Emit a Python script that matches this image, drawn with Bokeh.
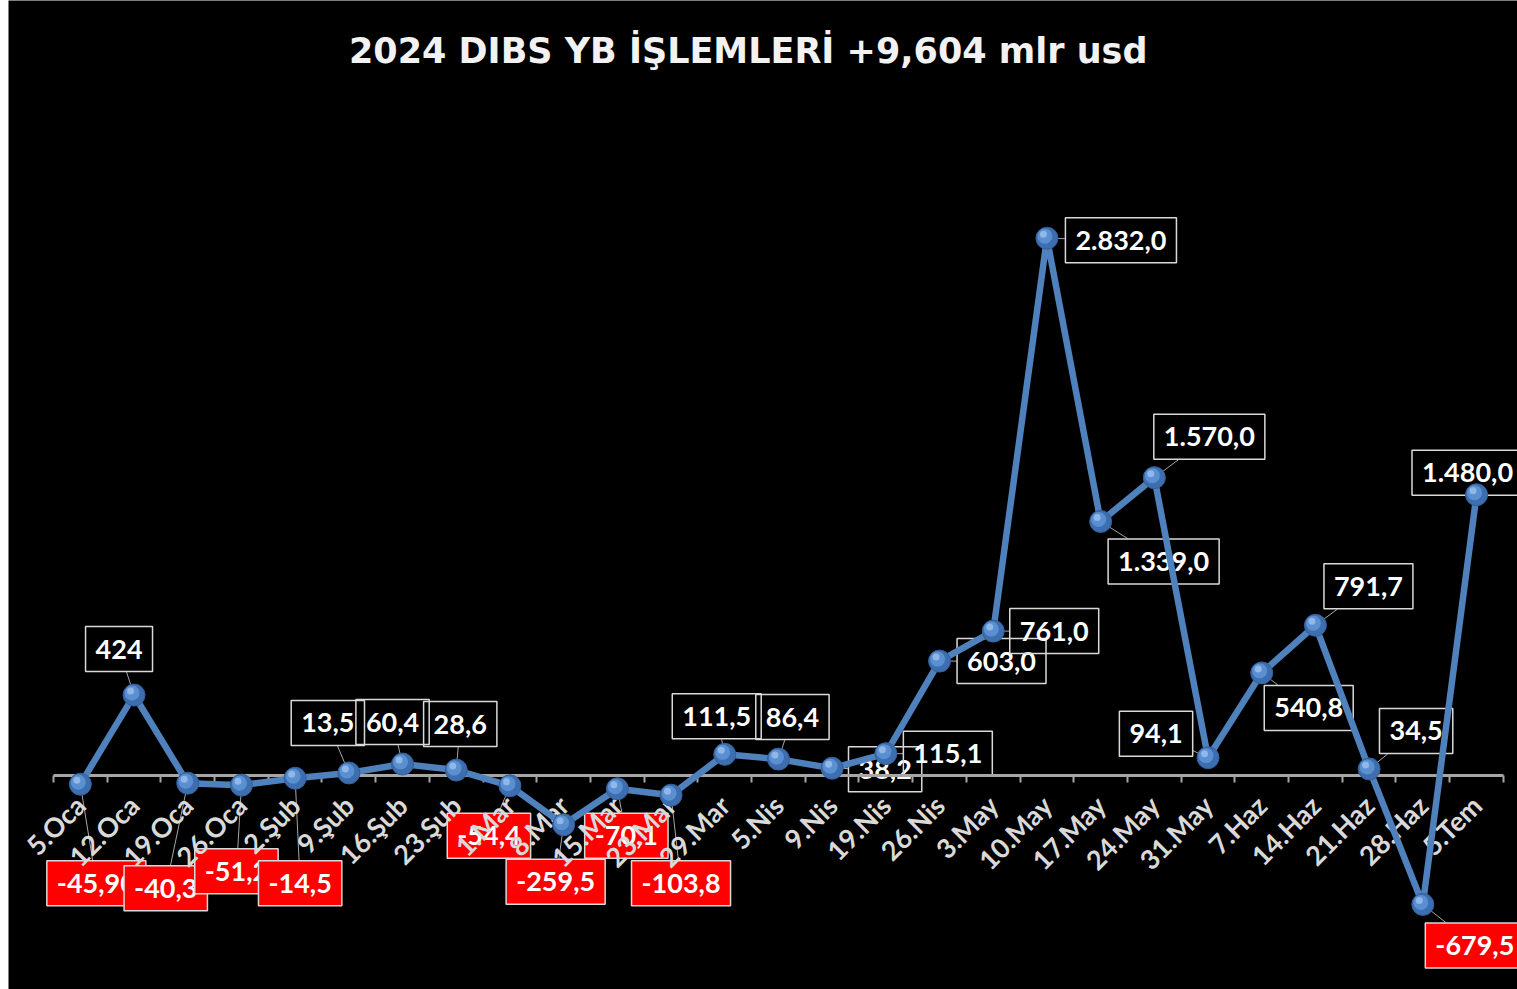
import math
from bokeh.plotting import figure
from bokeh.models import Label, FixedTicker, LinearAxis, Range1d, ColumnDataSource
from bokeh.embed import file_html
from bokeh.resources import INLINE

# ---------------- data ----------------
categories = ["5.Oca", "12.Oca", "19.Oca", "26.Oca", "2.Şub", "9.Şub", "16.Şub", "23.Şub",
              "1.Mar", "8.Mar", "15.Mar", "23.Mar", "29.Mar", "5.Nis", "9.Nis", "19.Nis",
              "26.Nis", "3.May", "10.May", "17.May", "24.May", "31.May", "7.Haz", "14.Haz",
              "21.Haz", "28.Haz", "5.Tem"]
values = [-45.90, 424, -40.3, -51.2, -14.5, 13.5, 60.4, 28.6,
          -54.4, -259.5, -70.1, -103.8, 111.5, 86.4, 38.2, 115.1,
          603.0, 761.0, 2832.0, 1339.0, 1570.0, 94.1, 540.8, 791.7,
          34.5, -679.5, 1480.0]
decimals = [2, 0, 1, 1, 1, 1, 1, 1, 1, 1, 1, 1, 1, 1, 1, 1,
            1, 1, 1, 1, 1, 1, 1, 1, 1, 1, 1]
title_text = "2024  DIBS  YB İŞLEMLERİ  +9,604 mlr usd"

# label box offsets from their point, in pixels (right, down)
label_dx = [16, -15, -22, -5, 5, -21, -10, 4, -21, -8, 9, 10, -8, 14, 53, 62,
            62, 61, 74, 63, 55, -52, 47, 53, 47, 52, -9]
label_dy = [99, -46, 105, 86, 105, -50, -42, -46, 50, 57, 47, 88, -38, -42, 1, 0,
            0, 0, 2, 40, -41, -24, 35, -39, -38, 41, -22]


def tr_format(v, d):
    s = f"{abs(v):,.{d}f}"
    s = s.replace(",", "X").replace(".", ",").replace("X", ".")
    return ("-" if v < 0 else "") + s


texts = [tr_format(v, d) for v, d in zip(values, decimals)]

# ---------------- geometry ----------------
W, H = 1517, 989
LEFT = 8
x_start, x_end = -1.338, 26.763
y_start, y_end = -1128.0, 4085.0
px_x = (W - LEFT) / (x_end - x_start)
px_y = H / (y_end - y_start)

FONT = "Lato"
LABEL_SIZE = 27
PAD_X, PAD_Y = 10, 13

p = figure(width=W, height=H, x_range=Range1d(x_start, x_end), y_range=Range1d(y_start, y_end),
           x_axis_type=None, y_axis_type=None, output_backend="svg", toolbar_location=None,
           min_border=0, min_border_left=LEFT, background_fill_color="black",
           border_fill_color="white", outline_line_color=None)

xs = list(range(len(categories)))

axis = LinearAxis(ticker=FixedTicker(ticks=xs, minor_ticks=[i - 0.5 for i in range(len(categories) + 1)]),
                  fixed_location=0, bounds=(-0.5, len(categories) - 0.5),
                  major_label_overrides={i: c for i, c in enumerate(categories)})
axis.axis_line_color = "#a6a6a6"
axis.axis_line_width = 3
axis.major_tick_out = 0
axis.major_tick_in = 0
axis.major_tick_line_color = None
axis.minor_tick_out = 7
axis.minor_tick_in = 0
axis.minor_tick_line_color = "#a6a6a6"
axis.minor_tick_line_width = 2
axis.major_label_orientation = math.pi / 4
axis.major_label_standoff = 18
axis.major_label_text_color = "#d9d9d9"
axis.major_label_text_font = FONT
axis.major_label_text_font_style = "bold"
axis.major_label_text_font_size = "27px"
p.add_layout(axis, "below")


# leader lines
def char_w(c):
    if c.isdigit():
        return 0.58 * LABEL_SIZE
    if c in ",.":
        return 0.26 * LABEL_SIZE
    return 0.36 * LABEL_SIZE


lx0, ly0, lx1, ly1 = [], [], [], []
for i, (v, t, dx, dy) in enumerate(zip(values, texts, label_dx, label_dy)):
    hw = sum(char_w(c) for c in t) / 2 + PAD_X
    hh = 23
    sx = hw / abs(dx) if dx else float("inf")
    sy = hh / abs(dy) if dy else float("inf")
    s = min(sx, sy)
    if s >= 1:
        continue
    ex, ey = dx * (1 - s), dy * (1 - s)
    lx0.append(i)
    ly0.append(v)
    lx1.append(i + ex / px_x)
    ly1.append(v - ey / px_y)

leaders = p.segment(x0=lx0, y0=ly0, x1=lx1, y1=ly1, line_color="#a6a6a6", line_width=1)
leaders.level = "glyph"

# labels (positive: outlined only, negative: red filled)
for i, (v, t, dx, dy) in enumerate(zip(values, texts, label_dx, label_dy)):
    lab = Label(x=i + dx / px_x, y=v - dy / px_y, text=t,
                text_align="center", text_baseline="middle",
                text_font=FONT, text_font_style="bold", text_font_size=f"{LABEL_SIZE}px",
                text_color="white",
                background_fill_color="#ff0000" if v < 0 else None,
                border_line_color="#d9d9d9", border_line_width=1.5,
                padding=(PAD_X, PAD_Y), level="glyph")
    p.add_layout(lab)

# series line & markers (drawn above axis)
src = ColumnDataSource(dict(x=xs, y=values))
ln = p.line("x", "y", source=src, line_color="#4f81bd", line_width=6.5, line_join="round")
ln.level = "annotation"
m1 = p.scatter("x", "y", source=src, size=22, fill_color="#3c6eb0", line_color="#345f98", line_width=1)
m1.level = "annotation"
hx = [x - 2 / px_x for x in xs]
hy = [y + 2 / px_y for y in values]
m2 = p.scatter(hx, hy, size=15, fill_color="#5a90d2", line_color=None)
m2.level = "annotation"
hx2 = [x - 3.5 / px_x for x in xs]
hy2 = [y + 4 / px_y for y in values]
m3 = p.scatter(hx2, hy2, size=7, fill_color="#9cc0ee", fill_alpha=0.8, line_color=None)
m3.level = "annotation"

# title
title = Label(x=x_start + (766 - LEFT) / px_x, y=y_end - 50 / px_y, text=title_text,
              text_align="center", text_baseline="middle", text_font="DejaVu Sans",
              text_font_style="bold", text_font_size="35px", text_color="#f2f2f2")
p.add_layout(title)

open("out.html", "w").write(file_html(p, INLINE))
